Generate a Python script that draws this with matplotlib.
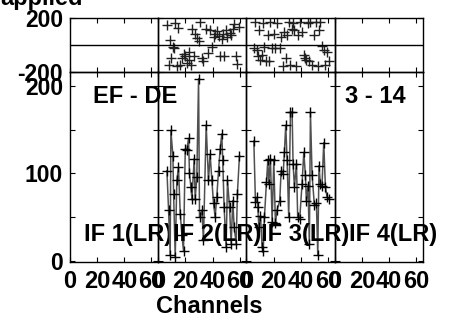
import matplotlib
matplotlib.use('Agg')
import matplotlib.pyplot as plt

# ---------------- dados ----------------
titulo = "applied"
rotulo_x = "Channels"
fonte_txt = "EF - DE"
tempo_txt = "3 - 14"
rotulos_if = ["IF 1(LR)", "IF 2(LR)", "IF 3(LR)", "IF 4(LR)"]

# IF 2
canais_if2 = [6.4, 7.6, 8.8, 9.3, 10.8, 11.3, 12.5, 13.7, 14.9, 16.2, 17.4, 18.6, 19.9, 21.1,
              22.3, 23.0, 24.0, 24.8, 26.5, 27.2, 28.4, 29.7, 30.4, 32.1, 33.3, 35.3, 37.0,
              38.2, 39.5, 40.7, 41.9, 43.1, 44.4, 45.6, 46.8, 47.5, 48.5, 50.0, 51.0, 52.5,
              53.7, 54.9, 55.9, 57.4, 58.3, 59.8]
amp_if2 = [103, 58, 7, 149, 120, 77, 5, 92, 107, 54, 30, 12, 128, 127, 140, 100, 85, 71,
           117, 71, 96, 208, 50, 58, 24, 155, 92, 122, 92, 66, 50, 73, 103, 128, 145, 115,
           62, 16, 92, 62, 20, 69, 39, 20, 77, 120]
fase_if2 = [153, -148, 37, -99, -12, -25, 168, -160, 128, -148, -94, -69, -86, -136, -111,
            -49, -148, 118, -86, 86, 54, 30, 173, -99, -123, 123, -62, 111, -12, 62, 86, 104,
            67, -86, 44, 79, -86, 111, 62, 93, 74, 123, 160, -86, -143, 136]

# IF 3
canais_if3 = [5.4, 6.6, 7.8, 8.3, 9.1, 10.3, 11.5, 12.3, 13.2, 14.7, 15.7, 16.4, 17.6, 18.9,
              20.1, 21.3, 22.5, 24.5, 25.5, 27.0, 27.9, 28.9, 29.9, 31.1, 32.4, 33.6, 34.3,
              35.3, 36.8, 37.7, 39.2, 40.9, 42.2, 43.4, 44.1, 45.3, 46.3, 47.1, 48.3, 50.0,
              51.5, 52.5, 53.4, 54.4, 55.6, 56.9, 58.1, 59.3, 60.5]
amp_if3 = [137, 67, 73, 62, 39, 52, 16, 11, 50, 90, 115, 88, 117, 45, 115, 43, 58, 69, 103,
           99, 124, 155, 115, 50, 170, 170, 111, 85, 111, 50, 48, 88, 124, 98, 69, 86, 20,
           170, 98, 64, 66, 7, 109, 88, 86, 135, 85, 73, 71]
fase_if3 = [-25, 171, -37, -86, 111, -111, -74, 165, -12, -118, 74, -123, 175, -25, 86, -20,
            168, -25, 62, -160, 99, -99, 74, 172, -148, 123, 168, 111, -160, 74, 176, 99, -74,
            -94, -111, 163, -123, 170, -148, 74, 175, -160, 111, 169, -5, -37, -148, -49, -123]

ticks_x = [0, 20, 40, 60]
ticks_amp = [0, 100, 200]
ticks_amp_menor = [50, 150]
ticks_fase = [-200, 200]

# ---------------- preferencias ----------------
plt.rcParams['font.family'] = ['Liberation Sans', 'DejaVu Sans']
plt.rcParams['font.weight'] = 'bold'
plt.rcParams['axes.unicode_minus'] = False
tam_tick = 16.5
tam_texto = 17
cor_linha = '#505050'

dados = {1: (canais_if2, amp_if2, fase_if2), 2: (canais_if3, amp_if3, fase_if3)}

fig = plt.figure(figsize=(4.57, 3.2), dpi=100)
gs = fig.add_gridspec(2, 4, left=70/457, right=423/457, top=1-18.3/320, bottom=1-262/320,
                      wspace=0, hspace=0, height_ratios=[53.4, 190.3])

textos = []
for i in range(4):
    ax_f = fig.add_subplot(gs[0, i])
    ax_a = fig.add_subplot(gs[1, i])

    if i in dados:
        canais, amp, fase = dados[i]
        ax_a.plot(canais, amp, color=cor_linha, lw=1.1, zorder=2)
        ax_a.plot(canais, amp, ls='none', marker='+', ms=7.5, mew=1, color='black', zorder=3)
        ax_f.plot(canais, fase, ls='none', marker='+', ms=7.5, mew=1, color='#202020')

    ax_f.axhline(0, color='black', lw=1)

    for ax in (ax_f, ax_a):
        ax.set_facecolor('none')
        ax.set_xlim(0, 65)
        ax.set_xticks(ticks_x)
        for s in ax.spines.values():
            s.set_linewidth(1)
        ax.tick_params(which='both', direction='in', top=True, right=True,
                       length=3.5, width=0.8, labelsize=tam_tick, pad=5)

    ax_f.set_ylim(-200, 200)
    ax_f.set_yticks(ticks_fase)
    ax_f.tick_params(labelbottom=False)

    ax_a.set_ylim(-1, 216)
    ax_a.set_yticks(ticks_amp)
    ax_a.set_yticks(ticks_amp_menor, minor=True)
    ax_a.tick_params(axis='x', labelsize=tam_texto, pad=6)

    if i > 0:
        ax_f.tick_params(labelleft=False)
        ax_a.tick_params(labelleft=False)

    # textos por cima de todos os paineis
    textos.append((ax_a, 14.5/88.25, 0.108, rotulos_if[i]))
    if i == 0:
        textos.append((ax_a, 23/88.25, 0.835, fonte_txt))
    if i == 3:
        textos.append((ax_a, 10/88.25, 0.835, tempo_txt))

for ax, x, y, t in textos:
    ax.text(x, y, t, transform=ax.transAxes, fontsize=tam_texto, fontweight='bold',
            ha='left', va='baseline', zorder=10, clip_on=False)

fig.text(209/457, 1-313/320, rotulo_x, fontsize=tam_texto, fontweight='bold',
         ha='center', va='baseline')
fig.text(0, 1-4.5/320, titulo, fontsize=tam_texto, fontweight='bold', ha='left', va='baseline')

fig.savefig('out.png', dpi=100)
